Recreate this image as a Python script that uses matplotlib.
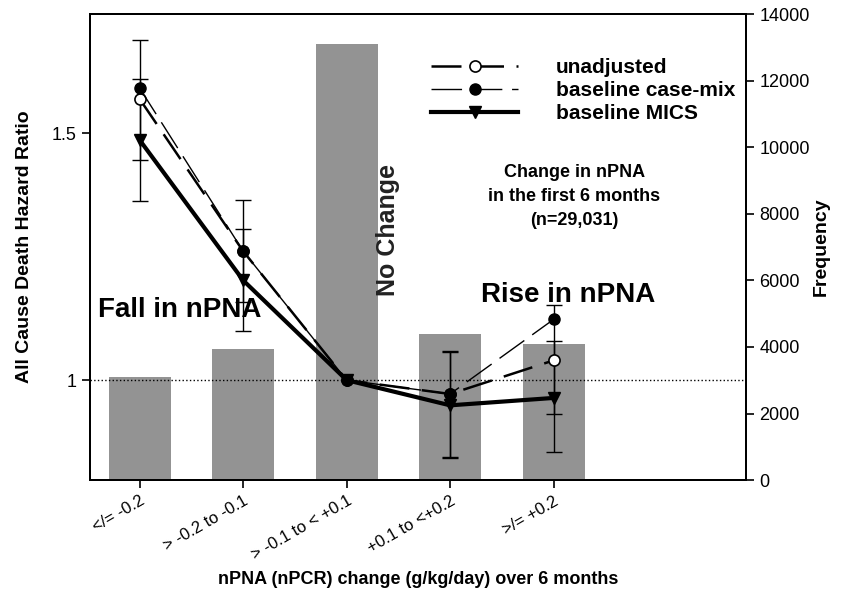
import matplotlib.pyplot as plt
import numpy as np

plt.rcParams['font.family'] = ['Liberation Sans', 'DejaVu Sans']

categories = ['</= -0.2', '> -0.2 to -0.1', '> -0.1 to < +0.1', '+0.1 to <+0.2', '>/= +0.2']
frequency = [3100, 3950, 13100, 4400, 4100]

unadjusted = [1.569, 1.261, 1.0, 0.972, 1.040]
unadj_lo = [1.445, 1.158, np.nan, 0.845, 0.931]
unadj_hi = [1.688, 1.364, np.nan, 1.060, 1.152]

casemix = [1.591, 1.261, 1.0, 0.972, 1.123]

mics = [1.486, 1.202, 1.0, 0.949, 0.964]
mics_lo = [1.362, 1.099, np.nan, 0.842, 0.854]
mics_hi = [1.609, 1.306, np.nan, 1.056, 1.079]

x = np.arange(len(categories))

fig = plt.figure(figsize=(8.42, 5.92), dpi=100)
ax = fig.add_axes([0.107, 0.189, 0.779, 0.787])
ax2 = ax.twinx()

# bars on the frequency axis, behind the lines
ax2.bar(x, frequency, width=0.6, color='#939393', zorder=1)
ax2.set_ylim(0, 14000)
ax2.set_yticks(range(0, 14001, 2000))
ax2.set_ylabel('Frequency', fontsize=14, fontweight='bold', labelpad=2)
ax.set_zorder(ax2.get_zorder() + 1)
ax.patch.set_visible(False)

ax.axhline(1.0, color='black', linestyle=':', linewidth=1)

ax.plot(x, unadjusted, color='black', linewidth=1.8, dashes=(12, 5),
        marker='o', markersize=8, markerfacecolor='white', markeredgewidth=1.2,
        label='unadjusted', zorder=3)
ax.plot(x, casemix, color='black', linewidth=1, dashes=(22, 7),
        marker='o', markersize=8, markerfacecolor='black',
        label='baseline case-mix', zorder=4)
ax.plot(x, mics, color='black', linewidth=3, marker='v', markersize=8,
        label='baseline MICS', zorder=5)

idx = [0, 1, 3, 4]
for vals, lo, hi in [(unadjusted, unadj_lo, unadj_hi), (mics, mics_lo, mics_hi)]:
    v = np.array(vals)[idx]
    l = np.array(lo)[idx]
    h = np.array(hi)[idx]
    ax.errorbar(x[idx], v, yerr=[v - l, h - v], fmt='none', ecolor='black',
                elinewidth=1, capsize=6, capthick=1, zorder=2)

ax.set_xlim(-0.48, 5.86)
ax.set_ylim(0.7976, 1.741)
ax.set_yticks([1, 1.5])
ax.set_yticklabels(['1', '1.5'])
ax.set_xticks(x)
ax.set_xticklabels(categories, rotation=30, ha='right', rotation_mode='anchor')
ax.set_ylabel('All Cause Death Hazard Ratio', fontsize=14, fontweight='bold', labelpad=14)
ax.set_xlabel('nPNA (nPCR) change (g/kg/day) over 6 months', fontsize=13,
              fontweight='bold', labelpad=6)

for a in (ax, ax2):
    a.tick_params(direction='out', length=6, width=1.2, labelsize=13)
    for s in a.spines.values():
        s.set_linewidth(1.4)
ax.tick_params(axis='x', labelsize=12)

ax.text(0.39, 1.142, 'Fall in nPNA', fontsize=20, fontweight='bold',
        ha='center', va='center')
ax.text(4.14, 1.172, 'Rise in nPNA', fontsize=20, fontweight='bold',
        ha='center', va='center')
ax.text(2.4, 1.304, 'No Change', fontsize=18, fontweight='bold', rotation=90,
        ha='center', va='center', color='#222222')
ax.text(4.2, 1.372, 'Change in nPNA\nin the first 6 months\n(n=29,031)',
        fontsize=13, fontweight='bold', ha='center', va='center', linespacing=1.55)

ax.legend(loc='upper right', bbox_to_anchor=(0.99, 0.915), frameon=False,
          handlelength=4.2, handletextpad=1.8, prop={'weight': 'bold', 'size': 15},
          labelspacing=0.2, borderaxespad=0, borderpad=0.2)

fig.savefig('out.png', dpi=100)
